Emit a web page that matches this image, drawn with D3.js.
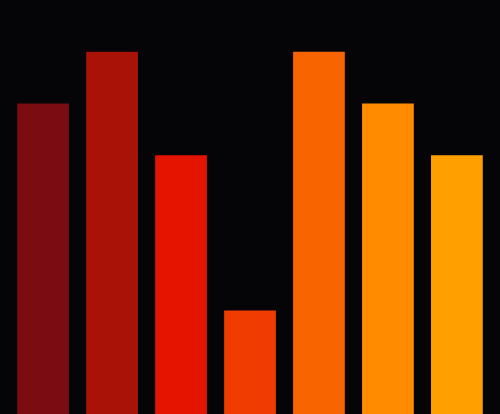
<!DOCTYPE html>
<html>
<head>
<meta charset="utf-8">
<script src="https://cdn.jsdelivr.net/npm/d3@7"></script>
<style>
  html, body { margin: 0; padding: 0; background: #050508; }
  svg { display: block; }
</style>
</head>
<body>
<div id="chart"></div>
<script>
'use strict';

// chart data
var categories = ['A', 'B', 'C', 'D', 'E', 'F', 'G'];
var values = [6, 7, 5, 2, 7, 6, 5];
var colors = ['#7a0c12', '#a81207', '#e51400', '#f03c00', '#f86400', '#ff8c00', '#ffa000'];

var width = 500, height = 414;

var svg = d3.select('#chart').append('svg')
  .attr('width', width)
  .attr('height', height);

svg.append('rect')
  .attr('width', width)
  .attr('height', height)
  .attr('fill', '#050508');

var x = d3.scaleBand()
  .domain(categories)
  .range([0, width])
  .padding(0.25);

var y = d3.scaleLinear()
  .domain([0, 8])
  .range([height, 0]);

svg.selectAll('rect.bar')
  .data(values)
  .enter()
  .append('rect')
  .attr('class', 'bar')
  .attr('x', function(d, i) { return x(categories[i]); })
  .attr('y', function(d) { return y(d); })
  .attr('width', x.bandwidth())
  .attr('height', function(d) { return height - y(d); })
  .attr('fill', function(d, i) { return colors[i]; });
</script>
</body>
</html>
